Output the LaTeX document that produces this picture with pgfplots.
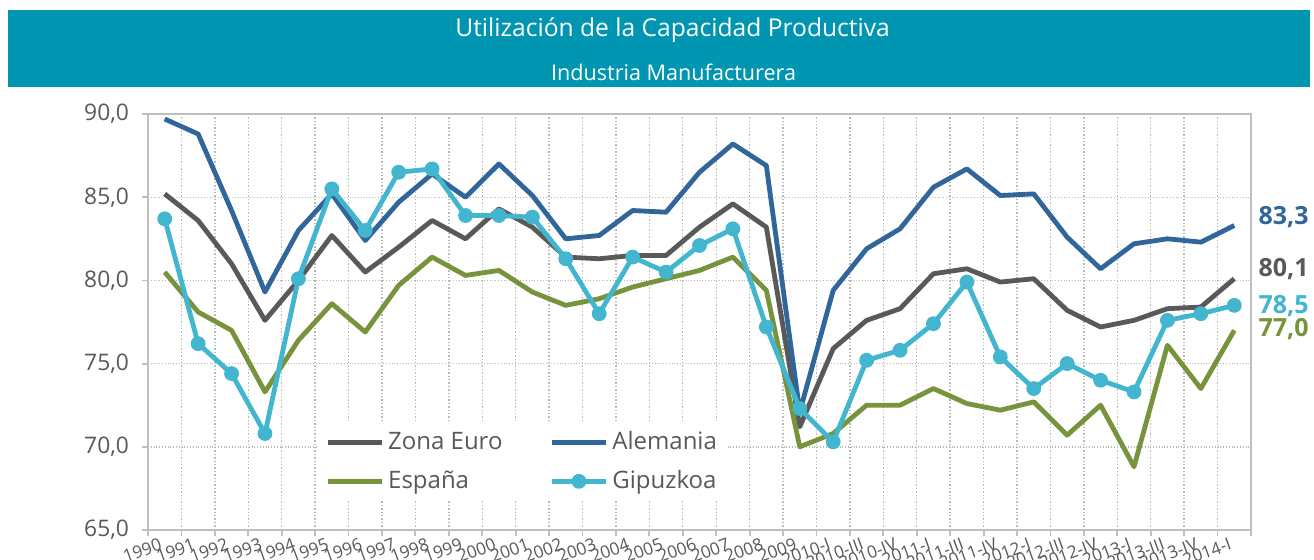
\documentclass[border=0pt]{standalone}
\usepackage{fontspec}
\setmainfont{Open Sans}
\usepackage{pgfplots}
\pgfplotsset{compat=1.18}
\definecolor{band}{HTML}{0096B2}
\definecolor{tickgray}{HTML}{595959}
\definecolor{ze}{HTML}{595959}
\definecolor{al}{HTML}{31669A}
\definecolor{es}{HTML}{77933C}
\definecolor{gi}{HTML}{42B5CF}
\definecolor{axgray}{HTML}{BFBFBF}
\begin{document}
\begin{tikzpicture}
\path[use as bounding box] (0,0) rectangle (657pt,279.5pt);
\fill[white] (0,0) rectangle (657pt,279.5pt);
\fill[band] (4pt,236pt) rectangle (655pt,274.5pt);
\node[text=white, font=\fontsize{12.3}{14}\selectfont, inner sep=0pt] at (336.3pt,264.5pt) {Utilización de la Capacidad Productiva};
\node[text=white, font=\fontsize{10.8}{12}\selectfont, inner sep=0pt] at (336.8pt,243.5pt) {Industria Manufacturera};
\begin{axis}[
  at={(74pt,14.5pt)}, anchor=south west,
  scale only axis, width=551.5pt, height=208pt,
  xmin=-0.5, xmax=32.5, ymin=65, ymax=90,
  clip=false,
  ytick={65,70,75,80,85,90},
  xtick={0,...,32},
  xticklabels={1990,1991,1992,1993,1994,1995,1996,1997,1998,1999,2000,2001,2002,2003,2004,2005,2006,2007,2008,2009,2010-I,2010-III,2010-IV,2011-I,2011-III,2011-IV,2012-I,2012-III,2012-IV,2013-I,2013-III,2013-IV,2014-I},
  minor xtick={-0.5,0.5,...,32.5},
  major x tick style={draw=none},
  xminorgrids=true, ymajorgrids=true,
  grid style={densely dotted, gray!55, line width=0.7pt},
  minor grid style={densely dotted, gray!55, line width=0.7pt},
  axis line style={axgray, line width=0.9pt},
  every tick/.style={axgray, line width=0.9pt},
  tick align=outside, tick pos=left,
  major tick length=3pt, minor tick length=3pt,
  /pgf/number format/assume math mode=true,
  /pgf/number format/fixed,
  /pgf/number format/fixed zerofill,
  /pgf/number format/precision=1,
  /pgf/number format/use comma,
  yticklabel style={text=tickgray, font=\fontsize{11.4}{12}\selectfont, xshift=-3pt},
  xticklabel style={text=tickgray, font=\fontsize{8.6}{9}\selectfont, rotate=20, anchor=north east, inner sep=1pt, xshift=-2pt, yshift=1.5pt},
  legend columns=2,
  legend cell align=left,
  legend style={at={(rel axis cs:0.155,0.257)}, anchor=north west, draw=none, fill=white,
    font=\fontsize{12}{14}\selectfont, text=tickgray, row sep=5pt,
    /tikz/column 2/.style={column sep=21.5pt}},
  legend image code/.code={\draw[mark repeat=2,mark phase=2] plot coordinates {(0pt,0pt)(13.5pt,0pt)(27pt,0pt)};},
]
\addplot[ze, line width=2.4pt, line join=round] coordinates {
(0,85.2)(1,83.6)(2,81.0)(3,77.6)(4,80.0)(5,82.7)(6,80.5)(7,82.0)(8,83.6)(9,82.5)(10,84.3)(11,83.2)(12,81.4)(13,81.3)(14,81.5)(15,81.5)(16,83.2)(17,84.6)(18,83.2)(19,71.2)(20,75.9)(21,77.6)(22,78.3)(23,80.4)(24,80.7)(25,79.9)(26,80.1)(27,78.2)(28,77.2)(29,77.6)(30,78.3)(31,78.4)(32,80.1)};
\addlegendentry{Zona Euro}
\addplot[al, line width=2.4pt, line join=round] coordinates {
(0,89.7)(1,88.8)(2,84.2)(3,79.3)(4,83.0)(5,85.2)(6,82.4)(7,84.7)(8,86.4)(9,85.0)(10,87.0)(11,85.1)(12,82.5)(13,82.7)(14,84.2)(15,84.1)(16,86.5)(17,88.2)(18,86.9)(19,72.1)(20,79.4)(21,81.9)(22,83.1)(23,85.6)(24,86.7)(25,85.1)(26,85.2)(27,82.6)(28,80.7)(29,82.2)(30,82.5)(31,82.3)(32,83.3)};
\addlegendentry{Alemania}
\addplot[es, line width=2.4pt, line join=round] coordinates {
(0,80.5)(1,78.1)(2,77.0)(3,73.3)(4,76.4)(5,78.6)(6,76.9)(7,79.7)(8,81.4)(9,80.3)(10,80.6)(11,79.3)(12,78.5)(13,78.9)(14,79.6)(15,80.1)(16,80.6)(17,81.4)(18,79.4)(19,70.0)(20,70.8)(21,72.5)(22,72.5)(23,73.5)(24,72.6)(25,72.2)(26,72.7)(27,70.7)(28,72.5)(29,68.8)(30,76.1)(31,73.5)(32,77.0)};
\addlegendentry{España}
\addplot[gi, line width=2.4pt, line join=round, mark=*, mark size=3.3pt, mark options={fill=gi, draw=gi, line width=0.8pt}] coordinates {
(0,83.7)(1,76.2)(2,74.4)(3,70.8)(4,80.1)(5,85.5)(6,83.0)(7,86.5)(8,86.7)(9,83.9)(10,83.9)(11,83.8)(12,81.3)(13,78.0)(14,81.4)(15,80.5)(16,82.1)(17,83.1)(18,77.2)(19,72.3)(20,70.3)(21,75.2)(22,75.8)(23,77.4)(24,79.9)(25,75.4)(26,73.5)(27,75.0)(28,74.0)(29,73.3)(30,77.6)(31,78.0)(32,78.5)};
\addlegendentry{Gipuzkoa}
\node[anchor=base west, inner sep=0pt, xshift=12pt, text=al, font=\bfseries\fontsize{12.5}{14}\selectfont] at (axis cs:32,83.33) {83,3};
\node[anchor=base west, inner sep=0pt, xshift=12pt, text=ze, font=\bfseries\fontsize{12.5}{14}\selectfont] at (axis cs:32,80.26) {80,1};
\node[anchor=base west, inner sep=0pt, xshift=12pt, text=gi, font=\bfseries\fontsize{12.5}{14}\selectfont] at (axis cs:32,78.04) {78,5};
\node[anchor=base west, inner sep=0pt, xshift=12pt, text=es, font=\bfseries\fontsize{12.5}{14}\selectfont] at (axis cs:32,76.60) {77,0};
\end{axis}
\end{tikzpicture}
\end{document}
